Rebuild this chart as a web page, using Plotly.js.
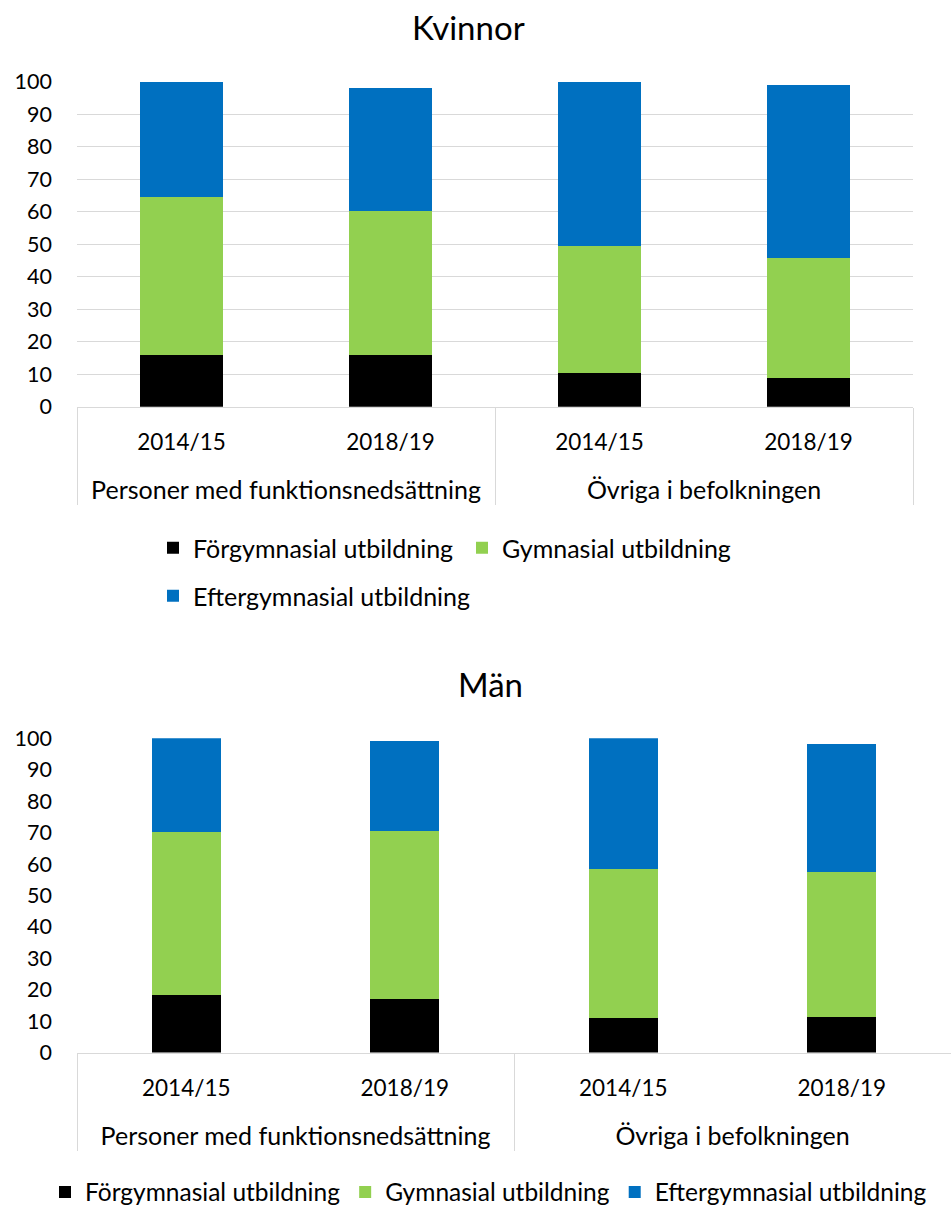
<!DOCTYPE html>
<html><head><meta charset="utf-8">
<script src="https://cdn.plot.ly/plotly-3.0.1.min.js"></script>
<style>html,body{margin:0;padding:0;background:#fff;overflow:hidden}#chart{width:951px;height:1206px}</style>
</head><body><div id="chart"></div>
<script>
const groups = ['Personer med funktionsnedsättning','Personer med funktionsnedsättning','Övriga i befolkningen','Övriga i befolkningen'];
const years = ['2014/15','2018/19','2014/15','2018/19'];
const seriesNames = ['Förgymnasial utbildning','Gymnasial utbildning','Eftergymnasial utbildning'];
const seriesColors = ['#000000','#92D050','#0070C0'];
const kvinnorFor = [16.0, 15.8, 10.3, 8.8];
const kvinnorGym = [48.4, 44.4, 39.2, 37.0];
const kvinnorEft = [35.6, 37.8, 50.5, 53.3];
const manFor = [18.3, 17.1, 10.9, 11.4];
const manGym = [51.8, 53.3, 47.6, 45.9];
const manEft = [29.9, 28.6, 41.5, 41.0];
const yTicks = [0,10,20,30,40,50,60,70,80,90,100];

const FONT = 'Lato, "Open Sans", sans-serif';
// year labels: slightly smaller glyphs, plus a blank second line so the group row sits lower
const yearLabels = years.map(y => '<span style="font-size:22.5px">' + y + '</span><br>\u00a0');
const xCats = [groups, yearLabels];
const kv = [kvinnorFor, kvinnorGym, kvinnorEft];
const ma = [manFor, manGym, manEft];
const traces = [];
kv.forEach((vals, i) => traces.push({
  type:'bar', x:xCats, y:vals, name:seriesNames[i],
  marker:{color:seriesColors[i]}, width:0.4, xaxis:'x', yaxis:'y',
  legend: i < 2 ? 'legend' : 'legend2', hoverinfo:'y'
}));
ma.forEach((vals, i) => traces.push({
  type:'bar', x:xCats, y:vals, name:seriesNames[i],
  marker:{color:seriesColors[i]}, width:0.316, xaxis:'x2', yaxis:'y2',
  legend:'legend3', hoverinfo:'y'
}));

const xCommon = {type:'multicategory', showline:true, linecolor:'#d9d9d9', linewidth:1,
  showgrid:false, dividercolor:'#d9d9d9', dividerwidth:1,
  ticks:'', ticklabelstandoff:12,
  tickfont:{family:FONT, size:25, color:'#000'}};
const yCommon = {range:[0,100], tickvals:yTicks, showline:false, zeroline:false,
  ticks:'', ticklabelstandoff:24, tickfont:{family:FONT, size:21.5, color:'#000'}, fixedrange:true};
const legFont = {family:FONT, size:25, color:'#000'};

const layout = {
  width:951, height:1206, margin:{l:0,r:0,t:0,b:0, autoexpand:false},
  paper_bgcolor:'#fff', plot_bgcolor:'#fff', barmode:'stack', showlegend:true,
  xaxis: Object.assign({}, xCommon, {domain:[77/951, 913/951], anchor:'y'}),
  yaxis: Object.assign({}, yCommon, {domain:[1-406.7/1206, 1-81.7/1206], anchor:'x',
    showgrid:true, gridcolor:'#d9d9d9', gridwidth:1}),
  xaxis2: Object.assign({}, xCommon, {domain:[77/951, 1], anchor:'y2'}),
  yaxis2: Object.assign({}, yCommon, {domain:[1-1052.5/1206, 1-738.3/1206], anchor:'x2',
    showgrid:false}),
  legend:{orientation:'h', x:153/951, xanchor:'left', y:1-548/1206, yanchor:'middle',
    font:legFont, entrywidth:264, entrywidthmode:'pixels', traceorder:'normal', bgcolor:'rgba(0,0,0,0)'},
  legend2:{orientation:'h', x:153/951, xanchor:'left', y:1-596/1206, yanchor:'middle',
    font:legFont, traceorder:'normal', bgcolor:'rgba(0,0,0,0)'},
  legend3:{orientation:'h', x:45/951, xanchor:'left', y:1-1192/1206, yanchor:'middle',
    font:{family:FONT, size:24.5, color:'#000'}, traceorder:'normal', bgcolor:'rgba(0,0,0,0)'},
  annotations:[
    {text:'Kvinnor', xref:'paper', yref:'paper', x:468/951, y:1-27/1206, xanchor:'center', yanchor:'middle',
     showarrow:false, font:{family:FONT, size:33, color:'#000'}},
    {text:'Män', xref:'paper', yref:'paper', x:490/951, y:1-684/1206, xanchor:'center', yanchor:'middle',
     showarrow:false, font:{family:FONT, size:33, color:'#000'}}
  ]
};
Plotly.newPlot('chart', traces, layout, {displayModeBar:false, staticPlot:true});
</script></body></html>
